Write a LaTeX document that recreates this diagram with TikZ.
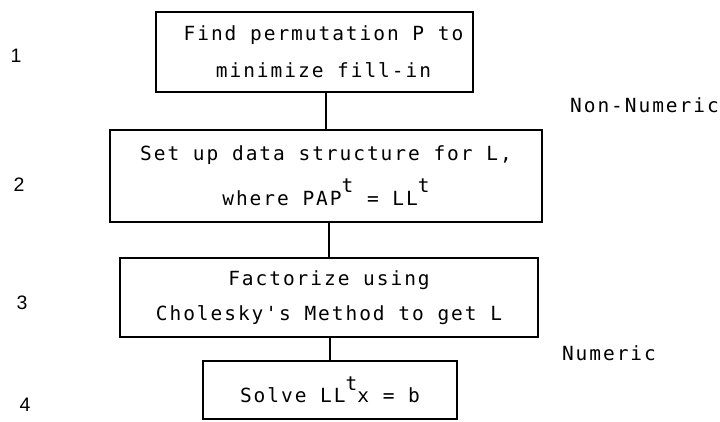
\documentclass[tikz,border=0pt]{standalone}
\usepackage{fontspec}
\setmonofont[LetterSpace=10]{DejaVu Sans Mono}
\newfontfamily\numfont{Liberation Sans}
\newcommand\upt[2][13pt]{\raisebox{#1}{#2}}
\begin{document}
\begin{tikzpicture}[x=1pt,y=-1pt,
  box/.style={draw, line width=1.5pt, inner sep=0pt, align=center,
    font=\ttfamily\fontsize{19.5}{37}\selectfont},
  conn/.style={line width=1.7pt},
  lbl/.style={font=\ttfamily\fontsize{19.5}{20}\selectfont, inner sep=0pt},
  num/.style={font=\numfont\fontsize{19.5}{20}\selectfont, inner sep=0pt}]
\useasboundingbox (0,0) rectangle (720,422);
\node[box, minimum width=317pt, minimum height=80pt] (b1) at (314.5,52)
  {\hspace*{18pt}Find permutation P to\\\hspace*{18pt}minimize fill-in};
\node[box, minimum width=432pt, minimum height=92pt] (b2) at (326,176)
  {Set up data structure for L,\\[8pt]where PAP\upt{t} = LL\upt{t}};
\node[box, minimum width=418pt, minimum height=79pt] (b3) at (329,297.5)
  {Factorize using\\[-2pt]Cholesky's Method to get L};
\node[box, minimum width=254pt, minimum height=58pt] (b4) at (330,390)
  {Solve LL\upt[12pt]{t}x = b};
\draw[conn] (b1.south -| b2.north) -- (b2.north);
\draw[conn] (b2.south -| b3.north) -- (b3.north);
\draw[conn] (b3.south -| b4.north) -- (b4.north);
\node[num] (n1) at (16,56) {1};
\node[num] (n2) at (19,185) {2};
\node[num] (n3) at (22,303) {3};
\node[num] (n4) at (25,405) {4};
\node[lbl] (nn) at (644.5,105) {Non-Numeric};
\node[lbl] (nu) at (609,353) {Numeric};
\end{tikzpicture}
\end{document}
